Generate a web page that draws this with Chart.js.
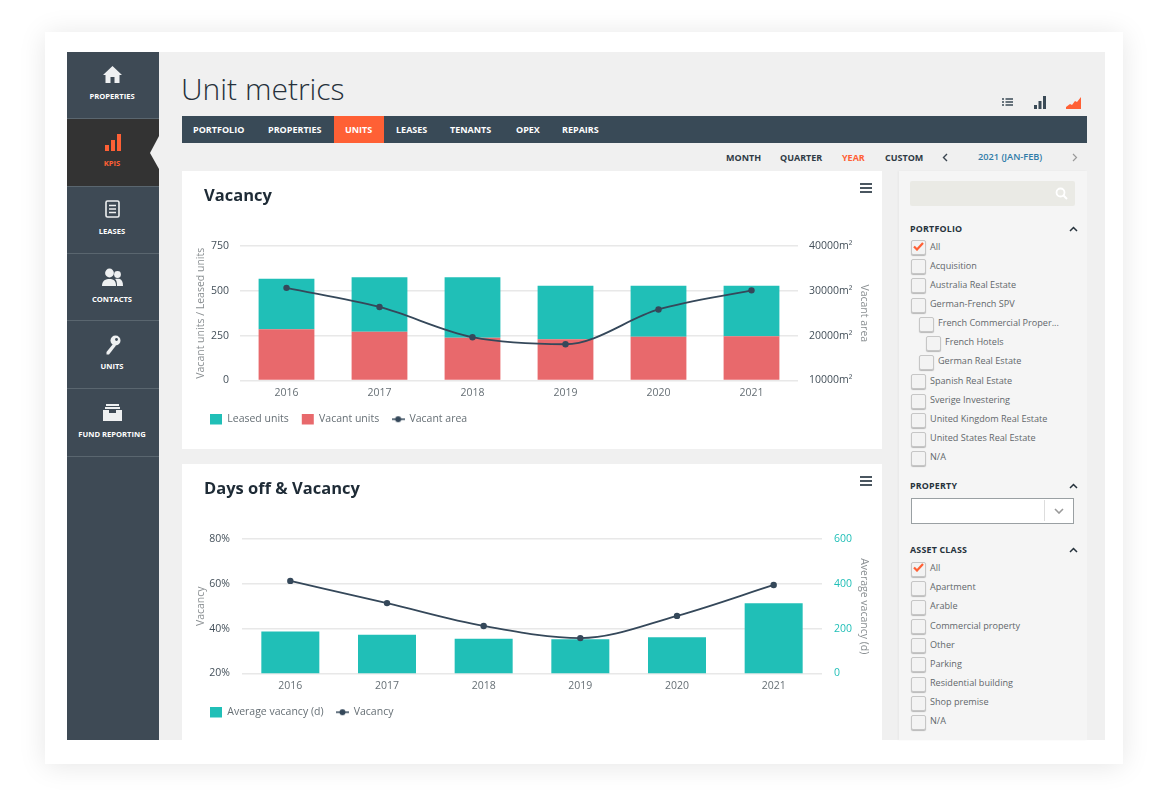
<!DOCTYPE html>
<html><head><meta charset="utf-8"><title>Unit metrics</title>
<script src="https://cdn.jsdelivr.net/npm/chart.js@4/dist/chart.umd.min.js"></script>
<style>
html,body{margin:0;padding:0;background:#fff;width:1171px;height:800px;overflow:hidden;font-family:"Open Sans",sans-serif}
.a{position:absolute;white-space:nowrap}
#shell{position:absolute;left:45px;top:32px;width:1078px;height:732px;background:#fff;box-shadow:0 2px 26px rgba(0,0,0,.10)}
#app{position:absolute;left:67px;top:52px;width:1038px;height:688px;background:#f0f0f0;overflow:hidden}
.lbl{transform:translateY(-50%);line-height:1}
.card{position:absolute;left:182px;width:700px;background:#fff}
canvas{position:absolute;left:0;top:0}
.ck{position:absolute;width:13px;height:13px;border:1px solid #c6c6c6;border-radius:2px;background:#f3f3f3;box-shadow:0 1px 1px rgba(0,0,0,.25)}
</style></head><body>
<div id="shell"></div>
<div id="app"></div>
<div class="a" style="left:67px;top:52px;width:92px;height:688px;background:#3e4a55"></div>
<div id="chrome"></div>
<div class="card" style="top:171px;height:278px"><canvas id="c1" width="700" height="278"></canvas></div>
<div class="card" style="top:464px;height:276px"><canvas id="c2" width="700" height="276"></canvas></div>
<div id="chrome2"></div>
<script>
const years = ['2016','2017','2018','2019','2020','2021'];
const leasedUnits = [281,304,337,298,284,281];
const vacantUnits = [286,272,239,230,244,247];
const vacantArea = [30670,26400,19660,18090,25840,30110];
const averageVacancyDays = [187,173,155,153,162,313];
const vacancyPct = [61.3,51.4,41.2,35.8,45.7,59.5];

const TEAL='#20bfb7', RED='#e8696c', LINE='#35485a', GRID='#e8e8e8', GREY='#666f75', DARK='#44505a', TITLE='#8a8f92';
const FONT={family:'"Open Sans"',size:10.5};

const marker=document.createElement('canvas');marker.width=13;marker.height=8;
(function(){const x=marker.getContext('2d');x.strokeStyle=LINE;x.fillStyle=LINE;x.lineWidth=1.5;
x.beginPath();x.moveTo(0,4);x.lineTo(13,4);x.stroke();x.beginPath();x.arc(6.5,4,3,0,Math.PI*2);x.fill();})();

function legendOpts(order){return {position:'bottom',align:'start',
  labels:{usePointStyle:true,pointStyleWidth:12,boxHeight:12,padding:13,color:GREY,font:FONT,
    sort:(a,b)=>order.indexOf(a.text)-order.indexOf(b.text),
    generateLabels(chart){return Chart.defaults.plugins.legend.labels.generateLabels(chart).map(it=>{
      const ds=chart.data.datasets[it.datasetIndex];
      it.pointStyle=ds.type==='line'?marker:'rect';it.lineWidth=0;it.strokeStyle='transparent';return it;});}}};}
const placeLegend=(left,top)=>({id:'placeLegend',afterLayout(ch){ch.legend.left=left;ch.legend.top=top;}});
const w=n=>s=>{s.width=n};
function base(pad){return {responsive:false,animation:false,layout:{padding:pad},elements:{line:{borderWidth:1.8}}};}
function xAxis(){return {stacked:true,grid:{display:false,drawTicks:false},border:{display:false},
  ticks:{color:GREY,font:FONT,padding:6,maxRotation:0},afterFit:s=>{s.height=26}};}
function yGrid(){return {color:GRID,lineWidth:1.5,drawTicks:false};}

new Chart(document.getElementById('c1'),{
  type:'bar',
  data:{labels:years,datasets:[
    {label:'Vacant units',data:vacantUnits,backgroundColor:RED,yAxisID:'y',order:1,categoryPercentage:1,barPercentage:.6},
    {label:'Leased units',data:leasedUnits,backgroundColor:TEAL,yAxisID:'y',order:2,categoryPercentage:1,barPercentage:.6},
    {type:'line',label:'Vacant area',data:vacantArea,borderColor:LINE,backgroundColor:LINE,yAxisID:'y1',order:0,cubicInterpolationMode:'monotone',pointRadius:3.2,pointBackgroundColor:LINE,pointBorderWidth:0}
  ]},
  options:Object.assign(base({left:13,right:12,top:75,bottom:9}),{
    plugins:{legend:legendOpts(['Leased units','Vacant units','Vacant area']),tooltip:{enabled:false}},
    scales:{
      x:xAxis(),
      y:{stacked:true,min:0,max:750,position:'left',grid:yGrid(),border:{display:false},
        ticks:{stepSize:250,color:DARK,font:FONT,padding:11},
        title:{display:true,text:'Vacant units / Leased units',color:TITLE,font:FONT,padding:{top:0,bottom:0}},
        afterFit:w(45)},
      y1:{min:10000,max:40000,position:'right',grid:{display:false,drawTicks:false},border:{display:false},
        ticks:{stepSize:10000,color:DARK,font:FONT,padding:11,callback:v=>v+'m²'},
        title:{display:true,text:'Vacant area',color:TITLE,font:FONT,padding:{top:0,bottom:0}},
        afterFit:w(72)}
    }}),
  plugins:[placeLegend(15,230)]
});

new Chart(document.getElementById('c2'),{
  type:'bar',
  data:{labels:years,datasets:[
    {label:'Average vacancy (d)',data:averageVacancyDays,backgroundColor:TEAL,yAxisID:'y1',order:1,categoryPercentage:1,barPercentage:.6},
    {type:'line',label:'Vacancy',data:vacancyPct,borderColor:LINE,backgroundColor:LINE,yAxisID:'y',order:0,cubicInterpolationMode:'monotone',pointRadius:3.2,pointBackgroundColor:LINE,pointBorderWidth:0}
  ]},
  options:Object.assign(base({left:13,right:12,top:75,bottom:7}),{
    plugins:{legend:legendOpts(['Average vacancy (d)','Vacancy']),tooltip:{enabled:false}},
    scales:{
      x:xAxis(),
      y:{min:20,max:80,position:'left',grid:yGrid(),border:{display:false},
        ticks:{stepSize:20,color:DARK,font:FONT,padding:12,callback:v=>v+'%'},
        title:{display:true,text:'Vacancy',color:TITLE,font:FONT,padding:{top:0,bottom:0}},
        afterFit:w(47)},
      y1:{min:0,max:600,position:'right',grid:{display:false,drawTicks:false},border:{display:false},
        ticks:{stepSize:200,color:TEAL,font:FONT,padding:12},
        title:{display:true,text:'Average vacancy (d)',color:TITLE,font:FONT,padding:{top:0,bottom:0}},
        afterFit:w(48)}
    }}),
  plugins:[placeLegend(15,230)]
});

/* page chrome */
const C=document.getElementById('chrome'),C2=document.getElementById('chrome2');
function text(t,x,y,size,color,weight,parent,extra){const d=document.createElement('div');d.className='a lbl';d.textContent=t;
  d.style.cssText+=`left:${x}px;top:${y}px;font-size:${size}px;color:${color};font-weight:${weight||400};`+(extra||'');(parent||C).appendChild(d);return d;}
function box(x,y,w,h,bg,parent,extra){const d=document.createElement('div');d.className='a';
  d.style.cssText+=`left:${x}px;top:${y}px;width:${w}px;height:${h}px;background:${bg};`+(extra||'');(parent||C).appendChild(d);return d;}
function svg(x,y,w,h,inner,parent){const d=document.createElement('div');d.className='a';d.style.cssText+=`left:${x}px;top:${y}px;width:${w}px;height:${h}px;`;
  d.innerHTML=`<svg width="${w}" height="${h}" viewBox="0 0 ${w} ${h}" style="display:block">${inner}</svg>`;(parent||C).appendChild(d);}

/* sidebar */
box(67,119,92,67,'#333');
svg(149,119,10,67,'<polygon points="10,17 1,34 10,50" fill="#f0f0f0"/>');
[118,186,253,320,388,456].forEach(y=>box(67,y,92,1,'#5a666f'));
const side=[['PROPERTIES',96.5,'#fff'],['KPIS',163.5,'#ff6035'],['LEASES',231.5,'#fff'],['CONTACTS',299.5,'#fff'],['UNITS',366.5,'#fff'],['FUND REPORTING',434.5,'#fff']];
side.forEach(s=>{text(s[0],66,s[1],7.6,s[2],700,C,'width:92px;text-align:center;');});
svg(103,66,19,17,'<path d="M9.5 0 L19 9 H16.5 V17 H11.5 V11 H7.5 V17 H2.5 V9 H0 Z" fill="#eef0f1"/>');
svg(105,134,16,17,'<rect x="0" y="11" width="4" height="6" fill="#ff6035"/><rect x="6" y="6" width="4" height="11" fill="#ff6035"/><rect x="12" y="0" width="4" height="17" fill="#ff6035"/>');
svg(105,200,15,18,'<rect x="1" y="1" width="13" height="16" rx="1.5" fill="none" stroke="#eef0f1" stroke-width="1.6"/><path d="M4 5.5h7M4 9h7M4 12.5h7" stroke="#eef0f1" stroke-width="1.4"/>');
svg(102,268,21,18,'<circle cx="7.5" cy="5" r="4.4" fill="#eef0f1"/><path d="M0 18 C0 12 4 11 7.5 11 C11 11 14 12 14 18Z" fill="#eef0f1"/><circle cx="15.5" cy="6.5" r="3.4" fill="#eef0f1"/><path d="M15 18 C15 14 14.5 12 13 11 C14 10.5 17 10.5 18 11 C20 12 21 14 21 18Z" fill="#eef0f1"/>');
svg(105,335,16,20,'<circle cx="10.5" cy="5.5" r="5" fill="#eef0f1"/><circle cx="11.5" cy="4.5" r="1.4" fill="#3e4a55"/><path d="M8 9 L1.5 17 L1.5 19.5 L4 19.5 L11 10.5Z" fill="#eef0f1"/>');
svg(103,404,19,17,'<rect x="3" y="0" width="13" height="2" fill="#eef0f1"/><rect x="2" y="3" width="15" height="2" fill="#eef0f1"/><path d="M0 6 H6 V9 H13 V6 H19 V17 H0Z" fill="#eef0f1"/>');

/* header */
text('Unit metrics',181,89,30,'#26313b',300);
box(182,116,905,27,'#394a57');
box(334,116,50,27,'#ff6035');
[['PORTFOLIO',193],['PROPERTIES',268],['UNITS',345],['LEASES',396],['TENANTS',450],['OPEX',516],['REPAIRS',562]].forEach(n=>text(n[0],n[1],129,9,'#fff',700));
[['MONTH',726,'#2f3a44'],['QUARTER',780,'#2f3a44'],['YEAR',842,'#ff6035'],['CUSTOM',885,'#2f3a44']].forEach(n=>text(n[0],n[1],157.3,9,n[2],700));
text('2021 (JAN-FEB)',978,157.3,9.2,'#2f7ba8',600);
svg(942,153,6,9,'<path d="M5 1 L1.5 4.5 L5 8" fill="none" stroke="#3a4550" stroke-width="1.4"/>');
svg(1072,153,6,9,'<path d="M1 1 L4.5 4.5 L1 8" fill="none" stroke="#9a9a9a" stroke-width="1.2"/>');
svg(1002,98,11,8,'<path d="M0 1h2M0 4h2M0 7h2M3.5 1h7.5M3.5 4h7.5M3.5 7h7.5" stroke="#3a4a56" stroke-width="1.4"/>');
svg(1034,96,12,13,'<rect x="0" y="9" width="3" height="4" fill="#3a4a56"/><rect x="4.5" y="5" width="3" height="8" fill="#3a4a56"/><rect x="9" y="0" width="3" height="13" fill="#3a4a56"/>');
svg(1066,97,15,12,'<path d="M0 12 L0 10 L4 7 L6 8 L9 4 L11 5 L15 0 L15 12Z" fill="#ff6035"/>');

/* chart card titles and hamburgers */
[[204,194.5,'Vacancy',183],[204,487.5,'Days off & Vacancy',476]].forEach(t=>{
  text(t[2],t[0],t[1],16.5,'#1e2b36',700,C2);
  [0,4,8].forEach(o=>box(859.5,t[3]+o,12.5,2,'#4a5660',C2));
});

/* filter panel */
box(899,171,188,569,'#f5f5f5',C2,'box-shadow:-1px 0 2px rgba(0,0,0,.04)');
box(910,181,165,25,'#eaeae5',C2,'border-radius:2px');
svg(1055,187,13,13,'<circle cx="5.5" cy="5.5" r="4" fill="none" stroke="#fff" stroke-width="1.8"/><path d="M8.5 8.5 L12 12" stroke="#fff" stroke-width="2"/>',C2);
const chev=(y)=>svg(1069,y-3,9,6,'<path d="M1 5 L4.5 1.5 L8 5" fill="none" stroke="#26323c" stroke-width="1.5"/>',C2);
function head(t,y){text(t,910,y,8.9,'#26323c',700,C2,'letter-spacing:.2px;');chev(y);}
const portfolioItems=[['All',246.5,0,1],['Acquisition',265.5,0],['Australia Real Estate',284.7,0],['German-French SPV',304,0],['French Commercial Proper...',323,1],['French Hotels',342,2],['German Real Estate',361.3,1],['Spanish Real Estate',380.5,0],['Sverige Investering',400,0],['United Kingdom Real Estate',419,0],['United States Real Estate',438,0],['N/A',457.3,0]];
const assetItems=[['All',568,0,1],['Apartment',587.2,0],['Arable',606.3,0],['Commercial property',625.5,0],['Other',644.6,0],['Parking',663.8,0],['Residential building',683,0],['Shop premise',702,0],['N/A',721.2,0]];
function row(it){const ind=[0,8,15][it[2]];const d=document.createElement('div');d.className='ck';d.style.left=(911+ind)+'px';d.style.top=(it[1]-6.5)+'px';C2.appendChild(d);
  text(it[0],930+ind,it[1],9.1,'#62676b',400,C2);
  if(it[3])svg(913,it[1]-5,11,9,'<path d="M1 4.5 L4 7.5 L10 1" fill="none" stroke="#ff6035" stroke-width="2.2"/>',C2);}
head('PORTFOLIO',228.5);portfolioItems.forEach(row);
head('PROPERTY',485.5);
box(911,498,161,24,'#fff',C2,'border:1px solid #9aa0a3;');
box(1044,500,1,21,'#ddd',C2);
svg(1054,508,10,6,'<path d="M1 1 L5 5 L9 1" fill="none" stroke="#9a9a9a" stroke-width="1.6"/>',C2);
head('ASSET CLASS',549.5);assetItems.forEach(row);
</script>
</body></html>
